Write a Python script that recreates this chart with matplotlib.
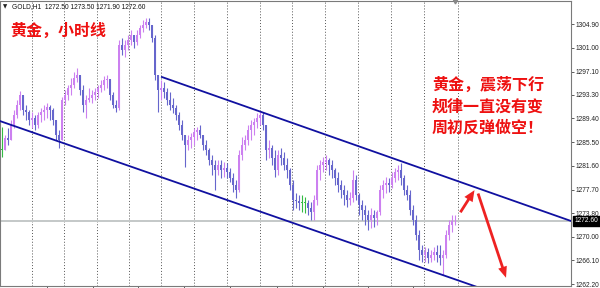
import matplotlib
matplotlib.use('Agg')
import matplotlib.pyplot as plt
import matplotlib.transforms as mtransforms
from matplotlib.patches import FancyArrowPatch
import numpy as np

# ---------------- data (GOLD H1) ----------------
first_open = 1284.2

closes = [1284.2, 1286.2, 1285.9, 1288.3, 1290.0, 1291.6, 1293.2, 1290.8, 1290.5, 1289.1,
          1289.5, 1288.3, 1290.0, 1290.5, 1290.8, 1291.3, 1290.8, 1289.1, 1286.7, 1285.9,
          1292.4, 1293.2, 1294.4, 1294.9, 1296.0, 1296.5, 1294.1, 1291.6, 1292.4, 1292.7,
          1293.2, 1293.7, 1294.4, 1294.9, 1295.7, 1295.9, 1293.2, 1291.6, 1291.1, 1301.5,
          1300.6, 1301.5, 1302.3, 1303.1, 1301.9, 1303.1, 1304.2, 1304.7, 1305.2, 1304.7,
          1302.6, 1296.5, 1294.1, 1294.4, 1293.7, 1292.4, 1291.6, 1291.1, 1290.0, 1288.3,
          1286.7, 1285.0, 1285.9, 1286.3, 1287.2, 1287.5, 1286.7, 1285.0, 1284.2, 1282.6,
          1281.8, 1280.9, 1281.8, 1280.9, 1281.3, 1280.6, 1279.6, 1278.5, 1277.6, 1283.4,
          1285.0, 1285.9, 1287.5, 1288.3, 1288.8, 1289.5, 1290.0, 1288.3, 1284.2, 1284.5,
          1282.9, 1280.9, 1283.4, 1282.9, 1281.8, 1280.9, 1278.5, 1276.0, 1275.8, 1275.5,
          1275.5, 1275.5, 1274.7, 1274.0, 1276.0, 1280.9, 1281.8, 1282.2, 1282.6, 1281.8,
          1280.9, 1279.6, 1278.5, 1277.6, 1276.8, 1276.0, 1276.3, 1279.3, 1276.8, 1275.2,
          1274.4, 1273.5, 1272.7, 1273.5, 1273.1, 1274.0, 1277.6, 1278.5, 1278.8, 1278.5,
          1279.6, 1280.6, 1280.9, 1279.6, 1277.6, 1276.8, 1274.4, 1272.7, 1270.2, 1267.8,
          1267.0, 1267.5, 1266.5, 1267.0, 1267.5, 1267.0, 1266.5, 1267.0, 1270.2, 1271.9,
          1272.5, 1272.6]

highs = [1288.0, 1286.7, 1287.8, 1289.1, 1290.8, 1292.4, 1293.9, 1293.2, 1291.6, 1290.8,
         1290.5, 1290.0, 1290.5, 1291.1, 1291.6, 1291.9, 1291.6, 1291.1, 1289.1, 1287.5,
         1292.9, 1294.1, 1294.9, 1296.0, 1297.0, 1297.7, 1296.5, 1294.9, 1293.2, 1294.4,
         1294.1, 1294.4, 1294.9, 1295.7, 1296.4, 1296.5, 1295.7, 1293.7, 1292.4, 1302.3,
         1302.6, 1302.3, 1303.1, 1303.9, 1303.1, 1303.9, 1304.7, 1305.6, 1305.9, 1305.9,
         1304.7, 1303.1, 1296.5, 1295.7, 1295.4, 1294.4, 1293.7, 1292.7, 1291.6, 1290.5,
         1289.1, 1286.7, 1286.7, 1287.0, 1287.8, 1288.0, 1288.3, 1286.7, 1285.9, 1284.5,
         1283.4, 1282.6, 1282.6, 1282.6, 1282.2, 1282.1, 1281.3, 1280.4, 1279.3, 1284.2,
         1286.3, 1286.7, 1288.3, 1289.1, 1289.5, 1290.3, 1290.5, 1290.5, 1288.3, 1285.9,
         1285.0, 1284.2, 1284.2, 1284.5, 1283.9, 1282.9, 1281.3, 1279.3, 1277.2, 1276.8,
         1276.8, 1276.5, 1276.0, 1275.7, 1276.8, 1281.8, 1282.6, 1283.1, 1283.4, 1282.9,
         1282.6, 1281.3, 1280.6, 1279.3, 1278.5, 1277.6, 1277.3, 1280.9, 1280.1, 1277.2,
         1276.0, 1275.2, 1274.4, 1274.7, 1274.4, 1274.4, 1278.5, 1279.3, 1279.8, 1279.6,
         1280.6, 1281.3, 1281.8, 1282.1, 1280.1, 1278.5, 1277.6, 1275.2, 1273.5, 1271.1,
         1268.6, 1268.3, 1268.1, 1267.8, 1268.3, 1268.6, 1268.6, 1267.8, 1271.1, 1272.7,
         1273.5, 1273.5]

lows = [1283.1, 1284.2, 1285.0, 1285.9, 1287.8, 1289.5, 1290.8, 1290.0, 1289.1, 1288.3,
        1287.8, 1287.5, 1287.8, 1288.8, 1289.1, 1289.5, 1289.1, 1288.3, 1285.9, 1284.5,
        1285.9, 1291.6, 1292.4, 1293.2, 1294.4, 1295.4, 1293.2, 1290.5, 1289.5, 1292.1,
        1291.9, 1292.4, 1292.7, 1293.7, 1294.1, 1294.4, 1292.4, 1291.1, 1290.5, 1290.8,
        1299.8, 1299.5, 1300.6, 1301.5, 1301.0, 1301.5, 1302.6, 1303.6, 1304.2, 1303.9,
        1301.9, 1295.7, 1290.5, 1292.4, 1292.7, 1291.6, 1290.8, 1290.3, 1289.1, 1287.5,
        1285.9, 1281.4, 1284.2, 1284.5, 1285.0, 1285.9, 1286.2, 1284.2, 1283.4, 1281.8,
        1280.1, 1277.6, 1280.1, 1279.6, 1279.8, 1279.6, 1279.0, 1277.3, 1276.3, 1277.3,
        1282.6, 1284.2, 1285.0, 1285.9, 1286.7, 1287.8, 1288.3, 1287.5, 1282.6, 1282.9,
        1281.8, 1279.8, 1280.1, 1281.8, 1280.9, 1279.6, 1277.6, 1274.4, 1274.7, 1274.4,
        1274.0, 1273.9, 1273.5, 1272.7, 1272.7, 1275.2, 1279.3, 1280.6, 1280.9, 1280.1,
        1279.6, 1278.5, 1277.3, 1276.3, 1275.2, 1274.9, 1275.2, 1275.7, 1276.0, 1273.5,
        1272.7, 1271.9, 1271.1, 1271.4, 1271.6, 1271.9, 1273.5, 1276.3, 1277.2, 1277.3,
        1278.0, 1279.0, 1279.3, 1278.5, 1276.8, 1276.0, 1273.5, 1271.9, 1269.4, 1266.2,
        1265.8, 1265.8, 1265.7, 1265.8, 1266.2, 1265.8, 1265.3, 1263.7, 1266.5, 1269.4,
        1270.7, 1271.9]

price_ticks = [1262.20, 1266.10, 1270.00, 1273.80, 1277.70, 1281.60,
               1285.50, 1289.40, 1293.30, 1297.10, 1301.00, 1304.90]
current_price = 1272.60
header = "GOLD,H1  1272.50 1273.50 1271.90 1272.60"

# vertical separators and time ticks (bar-index positions)
grid_bars = [10.0, 20.7, 31.7, 42.3, 53.0, 64.0, 75.0, 86.0, 96.7, 107.7,
             118.7, 129.7, 140.7, 152.0]
time_tick_bars = [15.0, 30.3, 45.3, 60.7, 76.0, 91.7, 107.0, 122.0, 137.0]

# trend channel anchors (bar index, price)
upper_channel = ([53.3, 189.7], [1296.2, 1272.55])
lower_channel = ([-0.7, 189.7], [1288.97, 1256.35])
arrow_up = ((152.3, 1273.6), (158.0, 1278.0))
arrow_down = ((158.4, 1277.5), (168.3, 1262.8))

title_left = "黄金，小时线"
note_lines = ["黄金，震荡下行", "规律一直没有变", "周初反弹做空！"]

# ---------------- figure ----------------
W, H = 600, 288
fig = plt.figure(figsize=(W / 100, H / 100), dpi=100)
fig.patch.set_facecolor('white')
ax = fig.add_axes([0 / W, 2 / H, 571 / W, 285 / H])

n = len(closes)
idx = np.arange(n)
c = np.array(closes)
o = np.concatenate([[first_open], c[:-1]])
o[-1] = 1272.50
hi = np.maximum(np.array(highs), np.maximum(o, c))
lo = np.minimum(np.array(lows), np.minimum(o, c))

bull_col = '#cc80f0'
bear_col = '#6666cc'
doji_col = '#33bb44'
cols = [bull_col if cc > oo else (bear_col if cc < oo else doji_col) for oo, cc in zip(o, c)]

ax.vlines(idx, lo, hi, colors=cols, linewidth=0.8, zorder=3)
body_bot = np.minimum(o, c)
body_h = np.maximum(np.abs(c - o), 0.12)
ax.bar(idx, body_h, bottom=body_bot, width=0.7, color=cols, linewidth=0, zorder=3)

# grid separators
for g in grid_bars:
    ax.axvline(g, color='#555555', linestyle=(0, (1, 2)), linewidth=0.7, zorder=1)

# current price line
ax.axhline(current_price, color='#c4c8c8', linewidth=1.4, zorder=2)

# channel
ax.plot(upper_channel[0], upper_channel[1], color='#1010a0', linewidth=1.3, zorder=4)
ax.plot(lower_channel[0], lower_channel[1], color='#1010a0', linewidth=1.3, zorder=4)

# arrows
for (p0, p1), hl, hw in [(arrow_up, 8, 7), (arrow_down, 8, 6.5)]:
    ax.add_patch(FancyArrowPatch(p0, p1,
                                 arrowstyle=f'simple,head_length={hl},head_width={hw},tail_width=2.0',
                                 color='#ee2222', linewidth=0, mutation_scale=1, zorder=5))

ax.set_xlim(-0.667, 189.67)
ax.set_ylim(1261.88, 1308.68)

# axes styling
for s in ax.spines.values():
    s.set_color('#7a7a7a')
    s.set_linewidth(0.8)
ax.yaxis.tick_right()
ax.set_yticks(price_ticks)
ax.set_yticklabels([f'{v:.2f}' for v in price_ticks])
ax.tick_params(axis='y', labelsize=4.8, length=2, width=0.6, pad=1.2,
               color='#444444', labelcolor='#222222')
for lab in ax.get_yticklabels():
    lab.set_family('Liberation Sans')
ax.set_xticks(time_tick_bars)
ax.set_xticklabels([])
ax.tick_params(axis='x', length=2, width=0.6, color='#444444')

# current price tag
tr = mtransforms.blended_transform_factory(ax.transAxes, ax.transData)
ax.text(1.006, current_price, f'{current_price:.2f}', transform=tr, fontsize=4.8,
        family='Liberation Sans', color='white', va='center', ha='left', zorder=6,
        bbox=dict(boxstyle='square,pad=0.25', facecolor='black', edgecolor='black'),
        clip_on=False)

# shift marker at top
ax.plot([151.1], [1.0], marker='v', markersize=3.5, color='#888888',
        transform=mtransforms.blended_transform_factory(ax.transData, ax.transAxes),
        clip_on=False, zorder=6)

# header
fig.text(3 / W, 1 - 7 / H, '▼', fontsize=4, color='#222222', va='center', ha='left')
fig.text(12 / W, 1 - 7 / H, header, fontsize=4.8, family='Liberation Sans',
         color='#111111', va='center', ha='left')

# red annotations
cjk = ['Noto Sans CJK SC', 'DejaVu Sans']
fig.text(10 / W, 1 - 31 / H, title_left, fontsize=11.5, family=cjk, weight='bold',
         color='#ee1111', va='center', ha='left')
for k, line in enumerate(note_lines):
    fig.text(432 / W, 1 - (85 + 21.5 * k) / H, line, fontsize=11.5, family=cjk,
             weight='bold', color='#ee1111', va='center', ha='left')

fig.savefig('out.png', dpi=100, facecolor='white')
